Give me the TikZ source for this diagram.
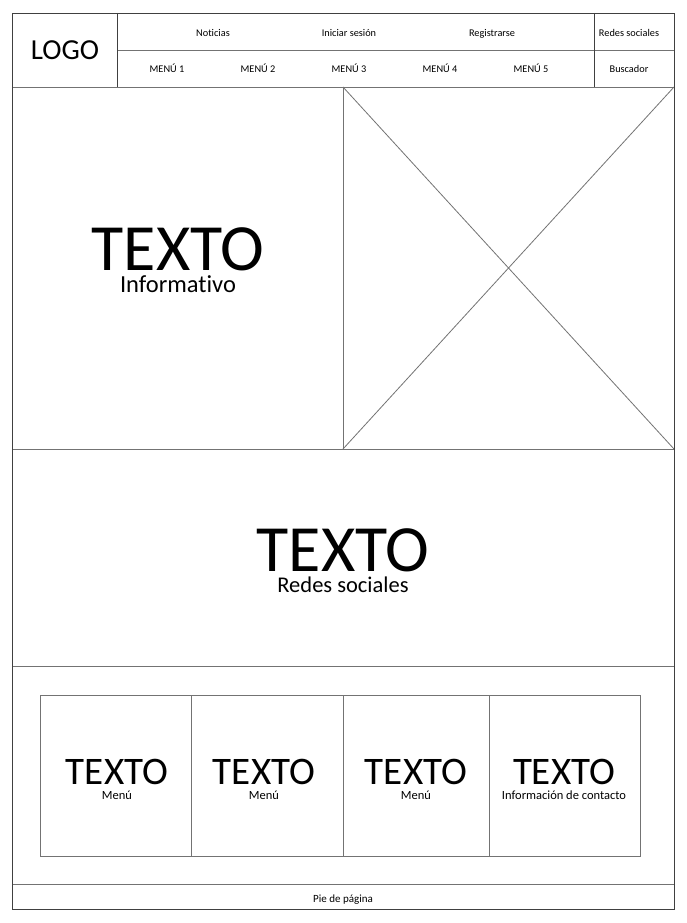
\documentclass[tikz,border=0pt]{standalone}
\usepackage{fontspec}
\setmainfont{Carlito}[Ligatures=NoCommon]
\begin{document}
\begin{tikzpicture}[x=1pt,y=-1pt,
  frame/.style={draw=black!75,line width=0.9pt},
  grid/.style={draw=black!55,line width=0.8pt},
  small/.style={font=\fontsize{10.3}{12}\selectfont,anchor=base,inner sep=0pt},
  big/.style={font=\fontsize{66}{70}\selectfont,anchor=base,inner sep=0pt,text depth=0pt},
  mid/.style={font=\fontsize{39}{44}\selectfont,anchor=base,inner sep=0pt,text depth=0pt},
  sub/.style={font=\fontsize{22.5}{24}\selectfont,anchor=base,inner sep=0pt,text height=11pt},
  subsmall/.style={font=\fontsize{12.5}{14}\selectfont,anchor=base,inner sep=0pt,text height=6pt}]
\useasboundingbox[fill=white] (0,0) rectangle (686,923);
% header
\draw[grid] (117,50) -- (674,50);
\draw[grid] (12,87) -- (674,87);
\draw[frame] (117,13) -- (117,87);
\draw[frame] (594,13) -- (594,87);
% main sections
\draw[grid] (343,87) -- (343,449);
\draw[grid] (343,87) -- (674,449);
\draw[grid] (674,87) -- (343,449);
\draw[grid] (12,449) -- (674,449);
\draw[grid] (12,666) -- (674,666);
% inner boxes
\draw[grid] (40,695) rectangle (640,856);
\draw[grid] (191,695) -- (191,856);
\draw[grid] (343,695) -- (343,856);
\draw[grid] (489,695) -- (489,856);
% footer
\draw[grid] (12,884) -- (674,884);
% outer frame
\draw[frame] (12,13) rectangle (674,909);
% texts
\node[anchor=base,inner sep=0pt,font=\fontsize{29}{32}\selectfont] (logo) at (65,60) {LOGO};
\node[small] (n1) at (213,37) {Noticias};
\node[small] (n2) at (349,37) {Iniciar sesión};
\node[small] (n3) at (492,37) {Registrarse};
\node[small] (n4) at (629,37) {Redes sociales};
\node[small] (m1) at (167,73) {MENÚ 1};
\node[small] (m2) at (258,73) {MENÚ 2};
\node[small] (m3) at (349,73) {MENÚ 3};
\node[small] (m4) at (440,73) {MENÚ 4};
\node[small] (m5) at (531,73) {MENÚ 5};
\node[small] (bus) at (629,73) {Buscador};
\node[big] (t1) at (178,270) {TEXTO};
\node[sub,font=\fontsize{24.5}{26}\selectfont] (s1) at (178,292) {Informativo};
\node[big] (t2) at (343,571) {TEXTO};
\node[sub] (s2) at (343,592) {Redes sociales};
\node[mid] (b1) at (117,784) {TEXTO};
\node[subsmall] (c1) at (117,799) {Menú};
\node[mid] (b2) at (264,784) {TEXTO};
\node[subsmall] (c2) at (264,799) {Menú};
\node[mid] (b3) at (416,784) {TEXTO};
\node[subsmall] (c3) at (416,799) {Menú};
\node[mid] (b4) at (564,784) {TEXTO};
\node[subsmall] (c4) at (564,799) {Información de contacto};
\node[anchor=base,inner sep=0pt,font=\fontsize{11}{13}\selectfont] (pie) at (343,902) {Pie de página};
\end{tikzpicture}
\end{document}
